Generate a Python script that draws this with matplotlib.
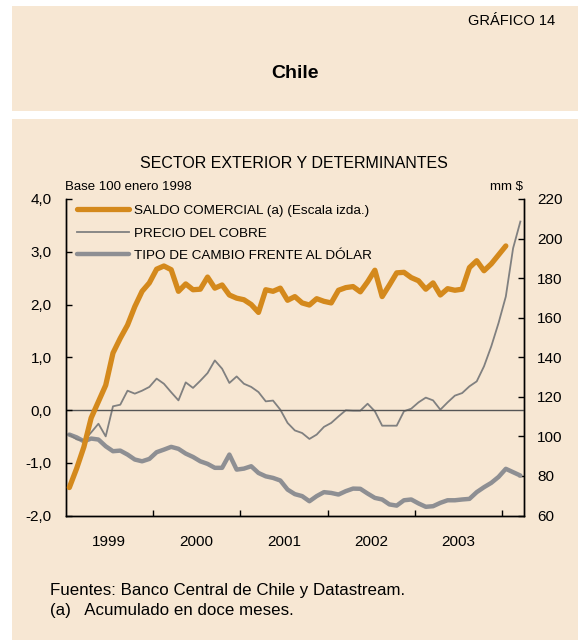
import numpy as np
import matplotlib
matplotlib.use("Agg")
import matplotlib.pyplot as plt
from matplotlib.patches import Rectangle
from matplotlib.ticker import FixedLocator, FuncFormatter

plt.rcParams['font.family'] = ['Liberation Sans', 'DejaVu Sans']

# monthly data, Jan 1999 - Mar 2004
start_year = 1999

# Saldo comercial acumulado 12 meses (mm $), escala izda.
saldo = [-1.47, -1.11, -0.70, -0.15, 0.16, 0.47, 1.08, 1.36, 1.61, 1.96,
         2.25, 2.41, 2.67, 2.73, 2.66, 2.25, 2.39, 2.28, 2.29, 2.52,
         2.31, 2.37, 2.18, 2.12, 2.09, 2.00, 1.85, 2.28, 2.25, 2.31,
         2.08, 2.15, 2.03, 1.99, 2.11, 2.06, 2.03, 2.27, 2.32, 2.34,
         2.24, 2.43, 2.65, 2.15, 2.37, 2.60, 2.61, 2.51, 2.45, 2.29,
         2.41, 2.18, 2.30, 2.27, 2.29, 2.70, 2.83, 2.64, 2.77, 2.94,
         3.11]

# Precio del cobre, base 100 enero 1998 (escala dcha.)
cobre = [100.9, 98.5, 97.8, 102.0, 106.4, 100.0, 115.2, 116.0, 123.1, 121.6,
         123.1, 125.0, 129.2, 126.6, 122.3, 118.2, 127.3, 124.5, 128.1, 132.0,
         138.4, 134.2, 127.0, 130.3, 126.6, 125.0, 122.4, 117.7, 118.1, 113.5,
         106.8, 103.0, 101.7, 98.7, 100.9, 104.8, 106.8, 110.1, 113.2, 113.0,
         113.0, 116.5, 112.7, 105.4, 105.4, 105.4, 112.7, 114.0, 117.2, 119.6,
         118.2, 113.5, 117.2, 120.6, 121.9, 125.3, 127.8, 135.4, 145.5, 157.3,
         170.7, 195.1, 208.6]

# Tipo de cambio frente al dolar, base 100 enero 1998 (escala dcha.)
tipo = [100.9, 99.5, 97.5, 98.9, 98.4, 95.0, 92.5, 92.8, 90.8, 88.3,
        87.4, 88.6, 92.0, 93.3, 94.7, 93.7, 91.3, 89.6, 87.4, 86.1,
        84.1, 84.1, 90.8, 83.2, 83.7, 84.9, 81.5, 79.8, 79.0, 77.7,
        73.1, 70.8, 69.8, 67.2, 69.8, 71.8, 71.4, 70.6, 72.3, 73.6,
        73.5, 71.1, 68.9, 68.1, 65.6, 65.0, 67.7, 68.1, 66.1, 64.4,
        64.7, 66.4, 67.7, 67.7, 68.1, 68.4, 71.8, 74.3, 76.5, 79.5,
        83.6, 81.9, 80.2]

years = [1999, 2000, 2001, 2002, 2003]
left_ticks = [-2, -1, 0, 1, 2, 3, 4]
right_ticks = [60, 80, 100, 120, 140, 160, 180, 200, 220]

beige = "#F7E7D3"
orange = "#D4891C"
thick_gray = "#8E8F93"
thin_gray = "#808080"

W, H = 578, 643
fig = plt.figure(figsize=(W / 100, H / 100), dpi=100)
fig.patch.set_facecolor("white")


def box(x0, y0, x1, y1):
    fig.add_artist(Rectangle((x0 / W, 1 - y1 / H), (x1 - x0) / W, (y1 - y0) / H,
                             transform=fig.transFigure, facecolor=beige,
                             edgecolor="none", zorder=-10))


box(12, 6, 578, 111)
box(12, 119, 578, 640)

fig.text(555 / W, 1 - 21 / H, "GRÁFICO 14", ha="right", va="center", fontsize=10.5)
fig.text(295 / W, 1 - 73 / H, "Chile", ha="center", va="center", fontsize=14, fontweight="bold")
fig.text(294 / W, 1 - 163 / H, "SECTOR EXTERIOR Y DETERMINANTES", ha="center", va="center", fontsize=11.5)
fig.text(65 / W, 1 - 187 / H, "Base 100 enero 1998", ha="left", va="center", fontsize=9.5)
fig.text(523 / W, 1 - 187 / H, "mm $", ha="right", va="center", fontsize=9.5)
fig.text(50 / W, 1 - 590 / H, "Fuentes: Banco Central de Chile y Datastream.", ha="left", va="center", fontsize=12.2)
fig.text(50 / W, 1 - 611 / H, "(a)   Acumulado en doce meses.", ha="left", va="center", fontsize=12.2)

ax = fig.add_axes([65.7 / W, 1 - 515.5 / H, (524 - 65.7) / W, (515.5 - 199) / H])
axr = ax.twinx()
ax.set_zorder(axr.get_zorder() + 1)
ax.patch.set_visible(False)
axr.patch.set_visible(False)

t_saldo = start_year + (np.arange(len(saldo)) + 0.5) / 12
t_cobre = start_year + (np.arange(len(cobre)) + 0.5) / 12
t_tipo = start_year + (np.arange(len(tipo)) + 0.5) / 12

ax.axhline(0, color="#555555", lw=1.0, zorder=1)
l_tipo, = axr.plot(t_tipo, tipo, color=thick_gray, lw=3.2, solid_capstyle="round",
                   label="TIPO DE CAMBIO FRENTE AL DÓLAR")
l_cobre, = axr.plot(t_cobre, cobre, color=thin_gray, lw=1.3, label="PRECIO DEL COBRE")
l_saldo, = ax.plot(t_saldo, saldo, color=orange, lw=3.8, solid_capstyle="round",
                   label="SALDO COMERCIAL (a) (Escala izda.)", zorder=3)

ax.set_xlim(1999, 2004.25)
ax.set_ylim(-2, 4)
axr.set_ylim(60, 220)

comma = FuncFormatter(lambda v, p: f"{v:.1f}".replace(".", ","))
ax.set_yticks(left_ticks)
ax.yaxis.set_major_formatter(comma)
axr.set_yticks(right_ticks)

ax.set_xticks([y + 1 for y in years])
ax.set_xticklabels([])
ax.xaxis.set_minor_locator(FixedLocator([y + 0.5 for y in years]))
ax.set_xticklabels([str(y) for y in years], minor=True)

ax.tick_params(axis="y", direction="in", length=4, width=1, labelsize=11, pad=10)
axr.tick_params(axis="y", direction="in", length=4, width=1, labelsize=11, pad=9.5)
ax.tick_params(axis="x", which="major", direction="in", length=4, width=1)
ax.tick_params(axis="x", which="minor", length=0, labelsize=11, pad=14)

for a in (ax, axr):
    a.spines["top"].set_visible(False)
    for s in ("left", "right", "bottom"):
        a.spines[s].set_linewidth(1.0)
        a.spines[s].set_color("black")

leg = ax.legend(handles=[l_saldo, l_cobre, l_tipo], loc="upper left",
                bbox_to_anchor=(9 / 458, 1 - 3 / 316.5), frameon=False, fontsize=9.7,
                handlelength=3.8, handletextpad=0.4, labelspacing=0.75,
                borderpad=0.2, borderaxespad=0)

fig.savefig("out.png", dpi=100)
